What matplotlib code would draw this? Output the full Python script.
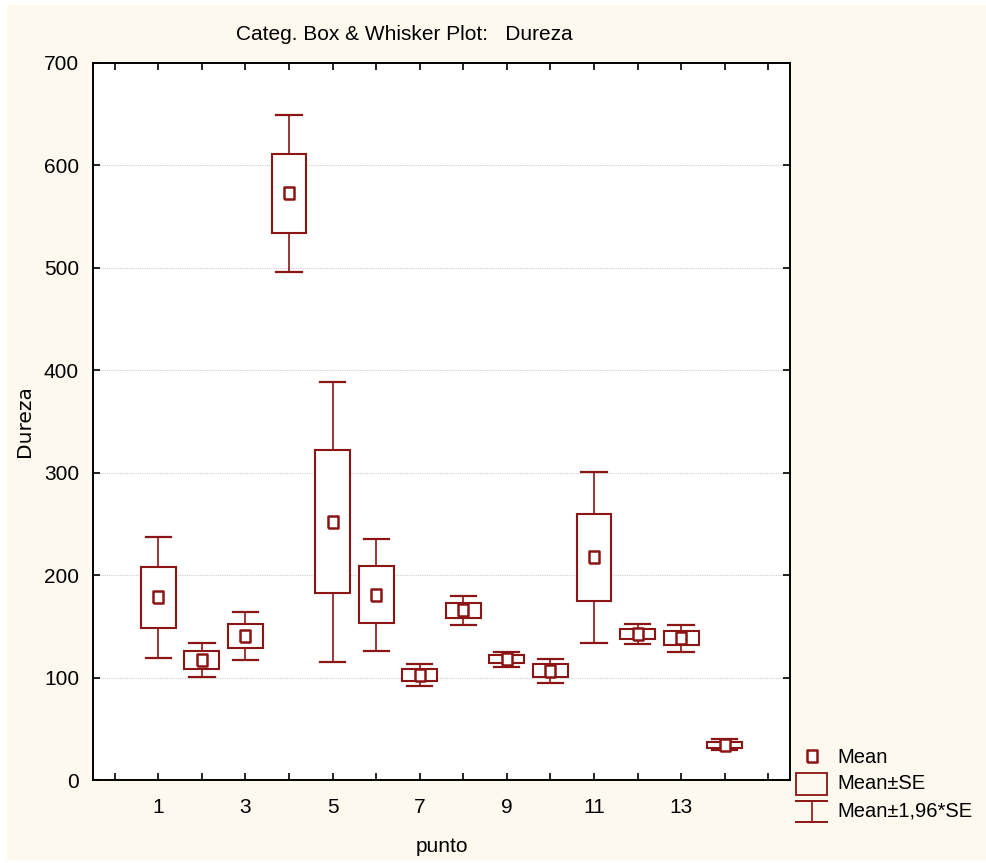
import matplotlib
matplotlib.use("Agg")
import matplotlib.pyplot as plt
from matplotlib.patches import Rectangle
from matplotlib.lines import Line2D

# ---- data ----
categories = [1, 2, 3, 4, 5, 6, 7, 8, 9, 10, 11, 12, 13, 14]
means    = [178.4, 117.2, 140.6, 572.8, 251.6, 180.9, 102.5, 165.7, 117.8, 106.7, 217.4, 142.5, 138.6, 34.5]
box_hi   = [208.2, 125.9, 152.6, 611.2, 321.9, 208.9, 108.1, 172.8, 121.7, 113.0, 259.7, 147.7, 145.5, 37.4]
box_lo   = [148.7, 108.4, 128.9, 533.7, 182.3, 153.0, 96.9, 158.4, 113.9, 100.6, 175.0, 137.4, 131.8, 31.5]
whisk_hi = [237.5, 134.0, 164.0, 649.2, 388.6, 235.6, 113.2, 179.6, 125.0, 118.4, 300.4, 152.6, 151.6, 39.7]
whisk_lo = [119.4, 100.3, 117.2, 496.2, 115.2, 126.2, 91.8, 151.3, 110.6, 95.0, 134.0, 132.8, 125.3, 29.3]
xtick_labels = ["", "1", "", "3", "", "5", "", "7", "", "9", "", "11", "", "13", "", ""]
yticks = [0, 100, 200, 300, 400, 500, 600, 700]

COL = "#8B1414"
CREAM = "#FEF9EF"
FONT = ["Liberation Sans", "DejaVu Sans"]

W, H = 986, 863
fig = plt.figure(figsize=(W / 100, H / 100), dpi=100)
fig.patch.set_facecolor("white")

def fx(px):
    return px / W

def fy(py):
    return 1 - py / H

# cream background with thin white border on left/top/bottom
fig.add_artist(Rectangle((fx(7), fy(860)), 1.0, (860 - 5) / H,
                         transform=fig.transFigure, facecolor=CREAM,
                         edgecolor="none", zorder=-10))

ax = fig.add_axes([fx(93), fy(780), fx(790 - 93), (780 - 63) / H])
ax.set_facecolor("white")
ax.set_xlim(-0.5, 15.5)
ax.set_ylim(0, 700)

box_w = 0.8
cap_w = 0.58
for c, m, bl, bh, wl, wh in zip(categories, means, box_lo, box_hi, whisk_lo, whisk_hi):
    ax.plot([c, c], [bh, wh], color=COL, lw=1.2, zorder=3)
    ax.plot([c, c], [wl, bl], color=COL, lw=1.2, zorder=3)
    ax.plot([c - cap_w / 2, c + cap_w / 2], [wh, wh], color=COL, lw=1.6, zorder=3)
    ax.plot([c - cap_w / 2, c + cap_w / 2], [wl, wl], color=COL, lw=1.6, zorder=3)
    ax.add_patch(Rectangle((c - box_w / 2, bl), box_w, bh - bl, facecolor="white",
                           edgecolor=COL, lw=1.5, zorder=4))

mean_marker = [(-0.85, -1), (0.85, -1), (0.85, 1), (-0.85, 1), (-0.85, -1)]
ax.plot(categories, means, linestyle="none", marker=mean_marker, markersize=8.5,
        markerfacecolor="white", markeredgecolor=COL, markeredgewidth=1.8, zorder=5)

# grid
for y in yticks[1:-1]:
    ax.axhline(y, color="#cfcfcf", lw=0.8, linestyle=(0, (1, 1)), zorder=1)

# ticks
ax.set_xticks(range(0, 16))
ax.set_xticklabels(xtick_labels)
ax.set_yticks(yticks)
ax.set_yticklabels([str(v) for v in yticks])
ax.tick_params(axis="both", direction="in", length=5, width=1.2, color="black",
               top=True, right=True, labelsize=15)
ax.tick_params(axis="x", pad=13)
ax.tick_params(axis="y", pad=10)
for lab in ax.get_xticklabels() + ax.get_yticklabels():
    lab.set_family(FONT)
for sp in ax.spines.values():
    sp.set_linewidth(1.4)
    sp.set_color("black")

ax.set_xlabel("punto", fontsize=15, family=FONT, labelpad=14)
ax.set_ylabel("Dureza", fontsize=14.5, family=["DejaVu Sans"], labelpad=7)

fig.text(fx(404), fy(34), "Categ. Box & Whisker Plot:   Dureza", ha="center",
         va="center", fontsize=15, family=FONT)

# legend drawn manually outside the axes
tf = fig.transFigure
fig.add_artist(Line2D([fx(811.5)], [fy(756)], transform=tf, linestyle="none",
                      marker=mean_marker, markersize=8, markerfacecolor="white",
                      markeredgecolor=COL, markeredgewidth=1.8))
fig.add_artist(Rectangle((fx(796), fy(795)), fx(31), 22 / H, transform=tf,
                         facecolor="none", edgecolor=COL, lw=1.3))
fig.add_artist(Line2D([fx(796), fx(827)], [fy(801), fy(801)], transform=tf, color=COL, lw=1.4))
fig.add_artist(Line2D([fx(796), fx(827)], [fy(822), fy(822)], transform=tf, color=COL, lw=1.4))
fig.add_artist(Line2D([fx(811.5), fx(811.5)], [fy(801), fy(822)], transform=tf, color=COL, lw=1.2))
for txt, py in [("Mean", 757), ("Mean\u00b1SE", 783), ("Mean\u00b11,96*SE", 811)]:
    fig.text(fx(837), fy(py), txt, ha="left", va="center", fontsize=14.5, family=FONT)

fig.savefig("out.png", dpi=100, facecolor=fig.get_facecolor())
